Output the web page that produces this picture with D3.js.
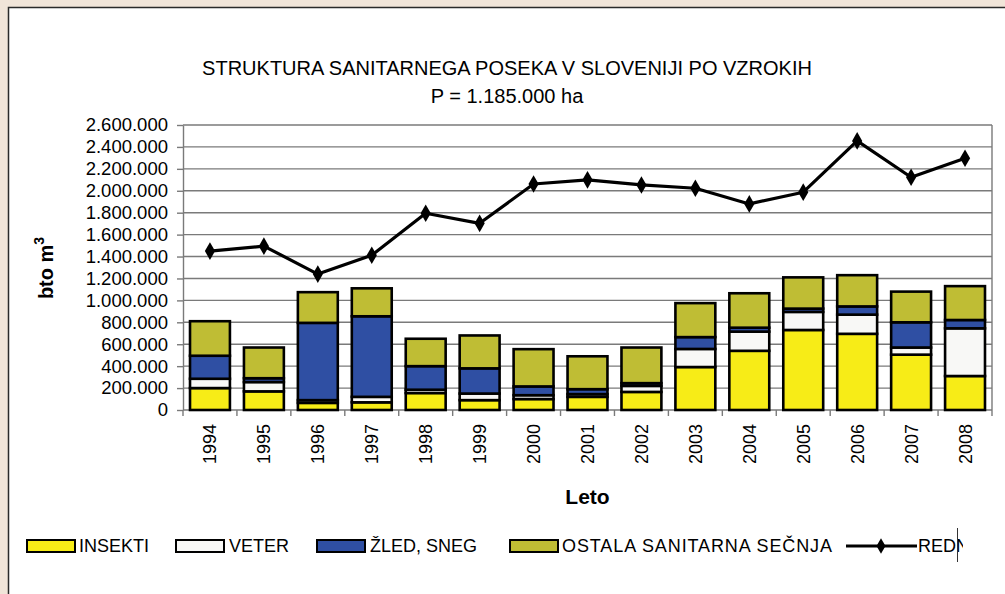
<!DOCTYPE html>
<html>
<head>
<meta charset="utf-8">
<script src="https://cdn.jsdelivr.net/npm/d3@7"></script>
<style>
  html, body { margin: 0; padding: 0; background: #f1e5d9; }
  svg { display: block; }
  text { font-family: "Liberation Sans", Arial, sans-serif; fill: #000; }
</style>
</head>
<body>
<svg id="chart" width="1005" height="594"></svg>
<script>
// ---- data ----
const years   = ["1994","1995","1996","1997","1998","1999","2000","2001","2002","2003","2004","2005","2006","2007","2008"];
const insekti = [200000,170000, 65000, 70000,155000, 90000,100000,120000,165000,392000,540000,730000,695000,505000,310000];
const veter   = [ 85000, 85000, 25000, 50000, 30000, 60000, 35000, 25000, 55000,165000,175000,165000,175000, 65000,435000];
const zled    = [210000, 35000,705000,735000,215000,230000, 80000, 45000, 25000,108000, 36000, 30000, 75000,230000, 76000];
const ostala  = [315000,280000,280000,255000,250000,300000,340000,300000,325000,310000,314000,285000,285000,280000,309000];
const redni   = [1450000,1495000,1240000,1412000,1795000,1703000,2062000,2100000,2053000,2023000,1880000,1987000,2455000,2123000,2297000];
const yTicks  = [0,200000,400000,600000,800000,1000000,1200000,1400000,1600000,1800000,2000000,2200000,2400000,2600000];
const seriesNames = ["INSEKTI","VETER","ŽLED, SNEG","OSTALA SANITARNA SEČNJA"];
const lineName = "REDNI";
const titleText = "STRUKTURA SANITARNEGA POSEKA V SLOVENIJI PO VZROKIH";
const subtitleText = "P = 1.185.000 ha";

// ---- styles ----
const colors = ["#f7ec17", "#f8f8f6", "#2f4fa3", "#bfbd34"];
const keys = ["insekti","veter","zled","ostala"];

const svg = d3.select("#chart");

// frame
svg.append("rect").attr("x", 8.5).attr("y", 7.5).attr("width", 1010).attr("height", 600)
  .attr("fill", "#fff").attr("stroke", "#2a2a2a").attr("stroke-width", 1.5);

const L = 183, R = 992, T = 125, B = 410;

const x = d3.scaleBand().domain(years).range([L, R]).paddingInner(0.26).paddingOuter(0.13);
const y = d3.scaleLinear().domain([0, 2600000]).range([B, T]);

const table = years.map((yr, i) => ({year: yr, insekti: insekti[i], veter: veter[i], zled: zled[i], ostala: ostala[i]}));
const stacked = d3.stack().keys(keys)(table);

// gridlines
svg.append("g").selectAll("line").data(yTicks.filter(d => d > 0)).join("line")
  .attr("x1", L).attr("x2", R).attr("y1", d => y(d)).attr("y2", d => y(d))
  .attr("stroke", "#7a7a7a").attr("stroke-width", 1.4);
// right border of plot area
svg.append("line").attr("x1", R).attr("x2", R).attr("y1", T).attr("y2", B)
  .attr("stroke", "#7a7a7a").attr("stroke-width", 1.4);

// y axis
const fmt = d => d3.format(",")(d).replace(/,/g, ".");
const yAxis = svg.append("g").attr("transform", `translate(${L},0)`)
  .call(d3.axisLeft(y).tickValues(yTicks).tickFormat(fmt).tickSizeInner(6).tickSizeOuter(0).tickPadding(9));
yAxis.select(".domain").attr("stroke", "#7a7a7a").attr("stroke-width", 1.4);
yAxis.selectAll(".tick line").attr("stroke", "#7a7a7a").attr("stroke-width", 1.4);
yAxis.selectAll(".tick text").attr("font-size", 18.5).attr("font-family", "Liberation Sans, Arial, sans-serif").attr("fill", "#000");

// x axis
const step = x.step();
const half = step * x.paddingInner() / 2;
const bounds = years.map(yr => x(yr) - half).concat([x(years[years.length - 1]) + x.bandwidth() + half]);
svg.append("line").attr("x1", L).attr("x2", R).attr("y1", B).attr("y2", B)
  .attr("stroke", "#7a7a7a").attr("stroke-width", 1.4);
svg.append("g").selectAll("line").data(bounds).join("line")
  .attr("x1", d => d).attr("x2", d => d).attr("y1", B).attr("y2", B + 6)
  .attr("stroke", "#7a7a7a").attr("stroke-width", 1.4);

svg.append("g").selectAll("text").data(years).join("text")
  .attr("transform", d => `translate(${x(d) + x.bandwidth() / 2},424) rotate(-90)`)
  .attr("text-anchor", "end").attr("dy", "0.36em").attr("font-size", 18).text(d => d);

// bars
svg.append("g").selectAll("g").data(stacked).join("g")
  .attr("fill", (d, i) => colors[i])
  .selectAll("rect").data(d => d).join("rect")
  .attr("x", d => x(d.data.year)).attr("width", x.bandwidth())
  .attr("y", d => y(d[1])).attr("height", d => y(d[0]) - y(d[1]))
  .attr("stroke", "#000").attr("stroke-width", 2.6);

// line
const line = d3.line().x((d, i) => x(years[i]) + x.bandwidth() / 2).y(d => y(d));
svg.append("path").datum(redni).attr("d", line).attr("fill", "none")
  .attr("stroke", "#000").attr("stroke-width", 3.2).attr("stroke-linejoin", "round");
svg.append("g").selectAll("path").data(redni).join("path")
  .attr("transform", (d, i) => `translate(${x(years[i]) + x.bandwidth() / 2},${y(d)})`)
  .attr("d", d3.symbol(d3.symbolDiamond, 90)).attr("fill", "#000");

// titles
svg.append("text").attr("x", 507).attr("y", 75).attr("text-anchor", "middle").attr("font-size", 20).text(titleText);
svg.append("text").attr("x", 507).attr("y", 103).attr("text-anchor", "middle").attr("font-size", 20).text(subtitleText);

svg.append("text").attr("x", (L + R) / 2).attr("y", 504).attr("text-anchor", "middle")
  .attr("font-size", 21).attr("font-weight", "bold").text("Leto");

const yl = svg.append("text").attr("transform", "translate(53,268) rotate(-90)")
  .attr("text-anchor", "middle").attr("font-size", 20).attr("font-weight", "bold");
yl.append("tspan").text("bto m");
yl.append("tspan").attr("dy", -9).attr("font-size", 14).text("3");

// legend
const legX = [27, 176, 317, 510];
const legTX = [79, 229, 370, 562];
const LY = 546;
const lg = svg.append("g");
seriesNames.forEach((n, i) => {
  lg.append("rect").attr("x", legX[i]).attr("y", LY - 6).attr("width", 48).attr("height", 12)
    .attr("fill", colors[i]).attr("stroke", "#000").attr("stroke-width", 2);
  lg.append("text").attr("x", legTX[i]).attr("y", LY).attr("dy", "0.35em").attr("font-size", 18)
    .attr("textLength", i === 3 ? 270 : null).text(n);
});
svg.append("defs").append("clipPath").attr("id", "lc").append("rect")
  .attr("x", 840).attr("y", 520).attr("width", 123).attr("height", 50);
const lg2 = svg.append("g").attr("clip-path", "url(#lc)");
lg2.append("line").attr("x1", 846).attr("x2", 917).attr("y1", LY).attr("y2", LY)
  .attr("stroke", "#000").attr("stroke-width", 3.2);
lg2.append("path").attr("transform", `translate(881,${LY})`).attr("d", d3.symbol(d3.symbolDiamond, 70)).attr("fill", "#000");
lg2.append("text").attr("x", 918).attr("y", LY).attr("dy", "0.35em").attr("font-size", 18).text(lineName);
svg.append("line").attr("x1", 957.5).attr("x2", 957.5).attr("y1", 528).attr("y2", 562)
  .attr("stroke", "#333").attr("stroke-width", 1);
</script>
</body>
</html>
